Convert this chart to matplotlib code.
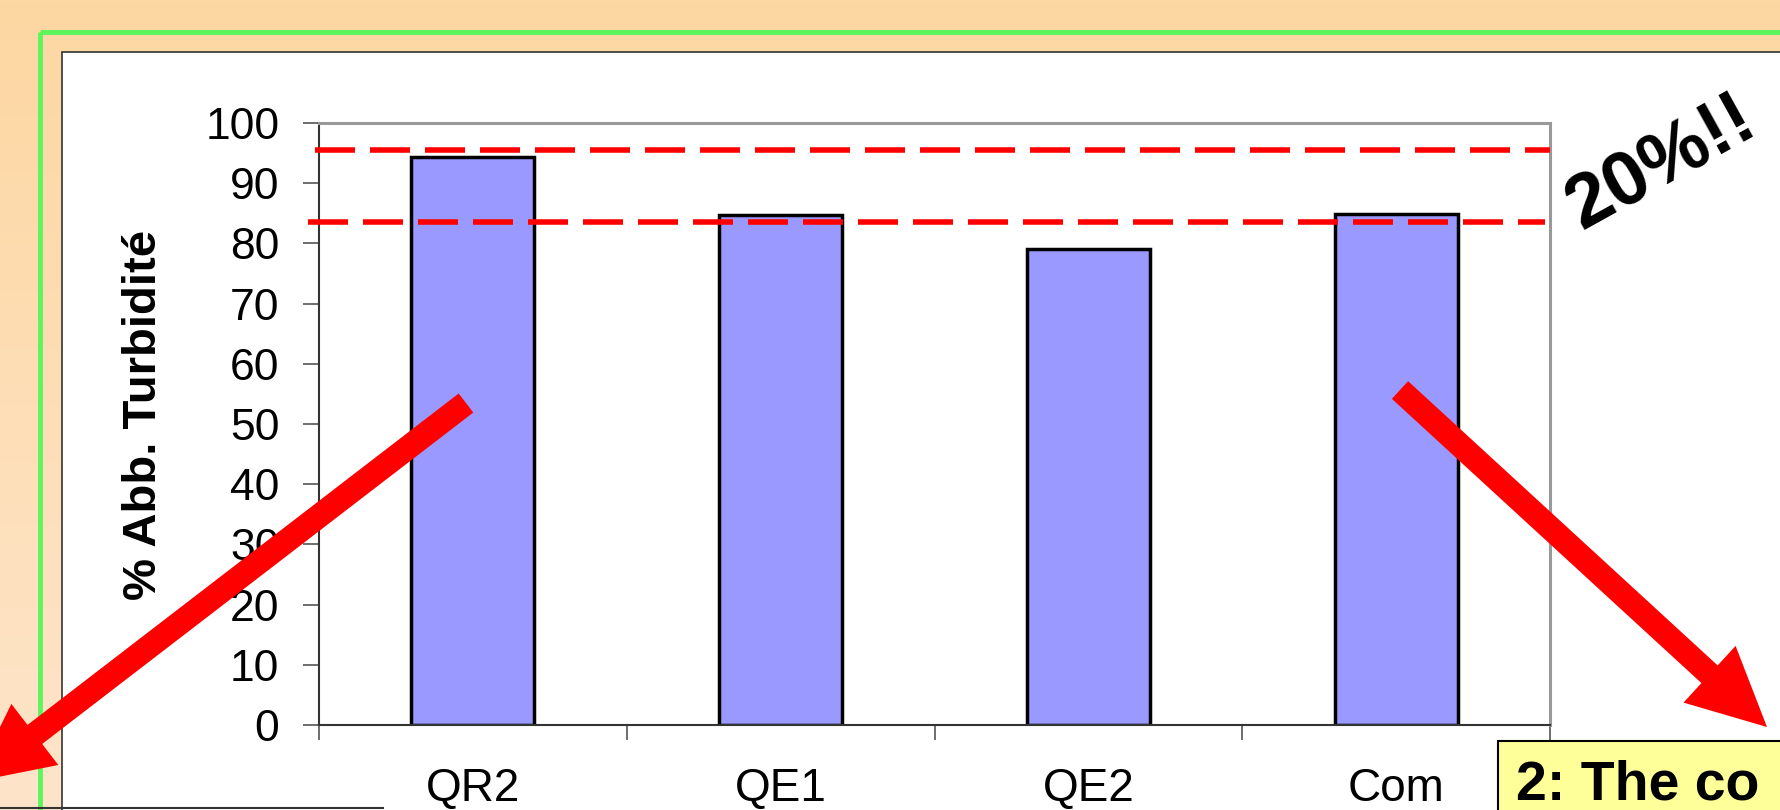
"""
Bar chart of turbidity removal (%) per coagulant, with two red reference lines
and the slide decorations around it.
"""

import numpy as np
import matplotlib
matplotlib.use('Agg')
import matplotlib.pyplot as plt
from matplotlib.patches import Rectangle, FancyArrow
from matplotlib.colors import LinearSegmentedColormap

# data
categories = ['QR2', 'QE1', 'QE2', 'Com']
removal = [94.3, 84.8, 79.1, 84.9]
upper_ref = 95.5
lower_ref = 83.6
y_ticks = list(range(0, 101, 10))

plt.rcParams['font.family'] = ['Liberation Sans', 'DejaVu Sans']

W, H = 1781, 810
fig = plt.figure(figsize=(W / 100, H / 100), dpi=100)

# slide background, drawn in pixel coordinates
bg = fig.add_axes([0, 0, 1, 1], zorder=0)
grad = np.linspace(0, 1, 256).reshape(-1, 1)
peach = LinearSegmentedColormap.from_list('peach', ['#FED7A2', '#FDE5CA'])
bg.imshow(grad, cmap=peach, extent=(0, W, H, 0), aspect='auto')
bg.set_xlim(0, W)
bg.set_ylim(H, 0)
bg.axis('off')
bg.add_patch(Rectangle((40, 32), W, H, fill=False, edgecolor='#5CF55C', lw=3.5))
bg.add_patch(Rectangle((62, 52), W, H, facecolor='white', edgecolor='#333333', lw=1.2))

# the chart itself
ax = fig.add_axes([319 / W, 1 - 725 / H, (1550 - 319) / W, (725 - 123) / H], zorder=1)
ax.set_facecolor('white')
x = np.arange(len(categories))
ax.bar(x, removal, width=0.4, color='#9999FF', edgecolor='black', linewidth=2.5, zorder=2)
ax.set_xlim(-0.5, len(categories) - 0.5)
ax.set_ylim(0, 100)
ax.set_yticks(y_ticks)
ax.tick_params(axis='y', direction='out', length=11.5, width=1.2, color='#555555',
               pad=17, labelsize=32)

# ticks between the categories, labels under the bars
ax.set_xticks(np.arange(len(categories) + 1) - 0.5)
ax.set_xticklabels([])
ax.set_xticks(x, minor=True)
ax.set_xticklabels(categories, minor=True)
ax.tick_params(axis='x', which='major', direction='out', length=11, width=1.2, color='#555555')
ax.tick_params(axis='x', which='minor', length=0, pad=30, labelsize=33)

for side in ['left', 'bottom']:
    ax.spines[side].set_color('#333333')
    ax.spines[side].set_linewidth(1.5)
for side in ['top', 'right']:
    ax.spines[side].set_color('#999999')
    ax.spines[side].set_linewidth(2.2)

ax.axhline(upper_ref, xmin=-0.003, xmax=1.0, color='red', lw=4, dashes=(7.2, 2.7),
           clip_on=False, zorder=3)
ax.axhline(lower_ref, xmin=-0.009, xmax=0.996, color='red', lw=4, dashes=(7.2, 2.7),
           clip_on=False, zorder=3)

ax.set_ylabel('% Abb. Turbidité', fontsize=34, fontweight='bold')
ax.yaxis.set_label_coords(-0.124, 0.515)

# overlay: arrows, comment and the cut-off boxes
ov = fig.add_axes([0, 0, 1, 1], zorder=2)
ov.set_xlim(0, W)
ov.set_ylim(H, 0)
ov.axis('off')

ov.add_patch(FancyArrow(466, 403, -493, 379, width=24, head_width=77, head_length=78,
                        length_includes_head=True, color='red', lw=0))
ov.add_patch(FancyArrow(1400, 390, 367, 337, width=24, head_width=77, head_length=78,
                        length_includes_head=True, color='red', lw=0))

ov.text(1662, 164, '20%!!', rotation=29, rotation_mode='anchor', fontsize=55,
        fontweight='heavy', ha='center', va='center')

ov.plot([0, 383], [808, 808], color='#333333', lw=1.5)
ov.add_patch(Rectangle((1498, 741), 400, 200, facecolor='#FFFF99', edgecolor='black', lw=1.5))
ov.text(1516, 800, '2: The co', fontsize=40, fontweight='bold', ha='left', va='baseline')

fig.savefig('out.png', dpi=100)
